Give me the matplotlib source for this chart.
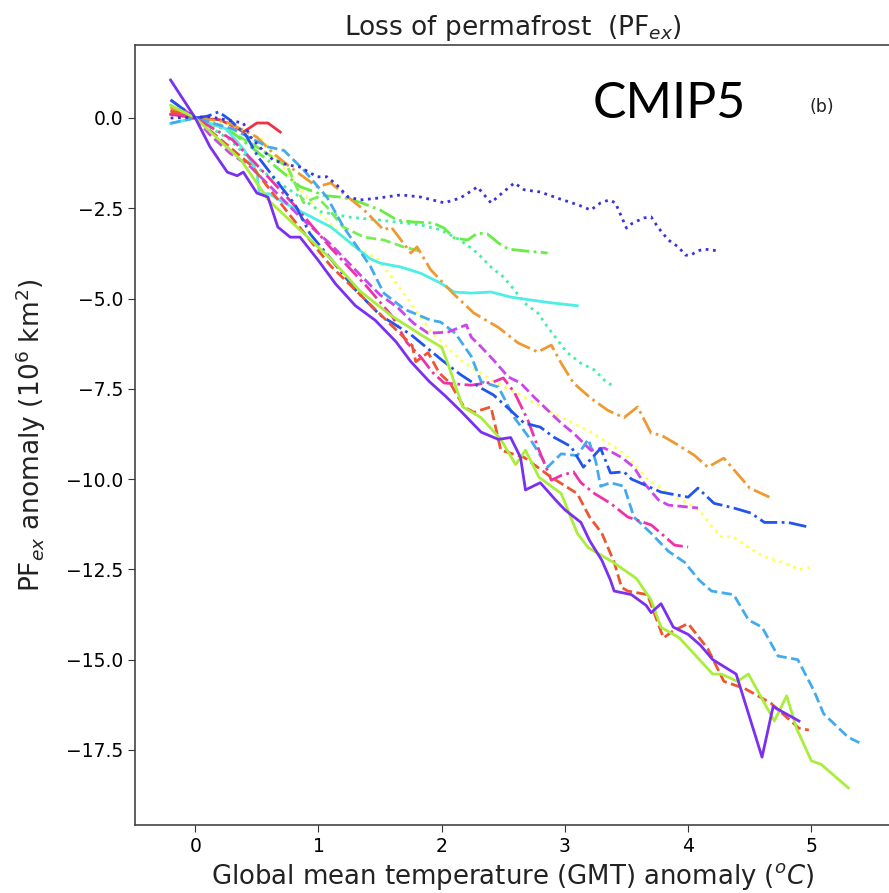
import matplotlib
matplotlib.use('Agg')
import matplotlib.pyplot as plt

# GMT anomaly (x) vs permafrost extent anomaly (y), one run per model
purple_x = [-0.2, 0, 0.12, 0.26, 0.34, 0.39, 0.5, 0.59, 0.67, 0.77, 0.85, 1.0, 1.14, 1.3, 1.46, 1.63, 1.75, 1.9, 2.03, 2.15, 2.32, 2.46, 2.56, 2.64, 2.68, 2.8, 2.93, 3.0, 3.13, 3.2, 3.3, 3.37, 3.4, 3.54, 3.66, 3.7, 3.78, 3.88, 4.0, 4.1, 4.2, 4.39, 4.6, 4.69, 4.9]
purple_y = [1.05, 0, -0.8, -1.5, -1.6, -1.5, -2.08, -2.19, -3.02, -3.3, -3.3, -3.95, -4.6, -5.2, -5.6, -6.2, -6.75, -7.3, -7.7, -8.1, -8.7, -8.9, -8.85, -9.4, -10.3, -10.1, -10.6, -10.85, -11.2, -11.7, -12.25, -12.8, -13.1, -13.2, -13.5, -13.7, -13.45, -14.1, -14.3, -14.6, -15.0, -15.4, -17.7, -16.3, -16.7]

lime_x = [-0.2, 0, 0.37, 0.6, 0.85, 1.1, 1.34, 1.58, 1.83, 2.0, 2.05, 2.17, 2.32, 2.48, 2.6, 2.68, 2.79, 2.97, 3.1, 3.19, 3.39, 3.58, 3.7, 3.78, 3.93, 4.2, 4.27, 4.4, 4.49, 4.7, 4.8, 4.88, 5.0, 5.08, 5.3]
lime_y = [0.35, 0, -1.16, -2.3, -3.1, -3.9, -4.8, -5.45, -6.0, -6.35, -6.8, -8.0, -8.3, -8.9, -9.6, -9.2, -9.95, -10.4, -11.5, -11.9, -12.3, -12.75, -13.35, -14.1, -14.4, -15.4, -15.4, -15.6, -15.4, -16.7, -16.0, -16.9, -17.8, -17.9, -18.55]

red_x = [-0.2, 0, 0.45, 0.77, 1.1, 1.34, 1.55, 1.76, 1.79, 1.89, 1.98, 2.07, 2.18, 2.26, 2.4, 2.48, 2.67, 2.89, 3.1, 3.2, 3.3, 3.4, 3.46, 3.51, 3.67, 3.8, 3.88, 4.0, 4.16, 4.29, 4.46, 4.67, 4.9, 4.98]
red_y = [0.2, 0, -1.3, -2.7, -4.1, -4.9, -5.6, -6.3, -6.75, -6.5, -7.06, -7.35, -8.0, -8.15, -8.0, -9.2, -9.4, -9.95, -10.4, -11.05, -11.5, -12.3, -13.0, -13.1, -13.2, -14.4, -14.2, -14.0, -14.7, -15.6, -15.8, -16.2, -16.9, -16.95]

ltblue_x = [-0.2, 0, 0.3, 0.59, 0.72, 0.88, 1.07, 1.2, 1.42, 1.53, 1.7, 1.91, 1.99, 2.11, 2.24, 2.32, 2.46, 2.59, 2.72, 2.86, 2.97, 3.1, 3.19, 3.25, 3.29, 3.37, 3.48, 3.56, 3.7, 3.84, 3.97, 4.09, 4.19, 4.37, 4.49, 4.6, 4.73, 4.89, 5.02, 5.1, 5.3, 5.39]
ltblue_y = [-0.15, 0, -0.3, -0.8, -0.9, -1.44, -2.2, -3.0, -4.1, -4.85, -5.3, -5.6, -5.65, -5.96, -6.6, -7.3, -7.45, -8.3, -8.9, -9.67, -9.3, -9.35, -8.9, -9.5, -10.2, -10.1, -10.2, -11.05, -11.5, -12.0, -12.3, -12.8, -13.1, -13.2, -13.9, -14.1, -14.9, -15.0, -15.85, -16.5, -17.15, -17.3]

yellow_x = [-0.2, 0, 0.3, 0.55, 0.77, 1.0, 1.26, 1.48, 1.67, 1.91, 2.15, 2.4, 2.64, 2.86, 3.02, 3.21, 3.4, 3.51, 3.67, 3.84, 4.0, 4.1, 4.19, 4.27, 4.37, 4.49, 4.62, 4.76, 4.9, 5.0]
yellow_y = [0.3, 0, -0.2, -0.6, -1.6, -2.6, -3.5, -3.9, -4.75, -5.9, -6.7, -7.25, -7.67, -8.1, -8.37, -8.7, -9.1, -9.4, -10.0, -10.4, -10.67, -10.9, -11.3, -11.6, -11.6, -11.9, -12.15, -12.3, -12.5, -12.45]

blue_x = [-0.2, 0, 0.1, 0.19, 0.28, 0.41, 0.51, 0.65, 0.81, 0.93, 1.1, 1.3, 1.5, 1.75, 2.0, 2.15, 2.32, 2.42, 2.56, 2.67, 2.8, 2.91, 3.05, 3.15, 3.29, 3.37, 3.48, 3.54, 3.78, 4.0, 4.08, 4.21, 4.37, 4.51, 4.62, 4.81, 4.98]
blue_y = [0.5, 0, 0.05, 0.17, -0.05, -0.47, -1.08, -1.7, -2.4, -3.2, -3.9, -4.76, -5.46, -6.0, -6.7, -7.1, -7.48, -7.67, -8.1, -8.45, -8.56, -8.84, -9.1, -9.67, -9.15, -9.83, -9.8, -10.0, -10.36, -10.5, -10.25, -10.67, -10.8, -10.94, -11.2, -11.2, -11.33]

orange_x = [-0.2, 0, 0.25, 0.5, 0.63, 0.77, 0.99, 1.1, 1.2, 1.37, 1.53, 1.59, 1.67, 1.75, 1.8, 1.91, 2.09, 2.26, 2.46, 2.62, 2.78, 2.89, 2.97, 3.07, 3.21, 3.35, 3.48, 3.59, 3.7, 3.78, 3.92, 4.05, 4.16, 4.29, 4.43, 4.5, 4.66]
orange_y = [0.3, 0, -0.1, -0.53, -0.97, -1.36, -1.91, -1.8, -2.08, -2.55, -3.1, -3.02, -3.38, -3.74, -3.57, -4.2, -4.85, -5.4, -5.8, -6.23, -6.48, -6.29, -6.79, -7.34, -7.76, -8.1, -8.3, -8.0, -8.73, -8.78, -9.06, -9.34, -9.67, -9.42, -9.97, -10.25, -10.5]

magenta_x = [-0.2, 0, 0.12, 0.28, 0.45, 0.61, 0.85, 1.1, 1.34, 1.5, 1.64, 1.77, 1.89, 2.05, 2.2, 2.24, 2.32, 2.42, 2.54, 2.64, 2.75, 2.86, 2.97, 3.07, 3.21, 3.32, 3.46, 3.56, 3.64, 3.76, 3.84, 4.08]
magenta_y = [0.5, 0, -0.47, -0.97, -1.36, -1.9, -2.74, -3.5, -4.35, -4.9, -5.24, -5.68, -5.96, -5.93, -5.73, -6.07, -6.34, -6.7, -7.17, -7.34, -7.73, -8.09, -8.45, -8.73, -9.2, -9.14, -9.4, -9.67, -10.1, -10.58, -10.72, -10.8]

pink_x = [-0.2, 0, 0.3, 0.5, 0.8, 1.1, 1.4, 1.6, 1.72, 1.83, 1.93, 2.02, 2.24, 2.42, 2.5, 2.59, 2.7, 2.79, 2.89, 2.97, 3.07, 3.13, 3.24, 3.37, 3.51, 3.7, 3.78, 3.89, 4.0]
pink_y = [0.15, 0, -0.6, -1.3, -2.4, -3.6, -4.7, -5.5, -6.23, -6.62, -7.06, -7.34, -7.4, -7.31, -7.2, -7.6, -8.37, -9.2, -10.03, -9.9, -9.8, -10.1, -10.4, -10.67, -11.05, -11.27, -11.5, -11.83, -11.88]

aqua_x = [-0.2, 0, 0.28, 0.53, 0.77, 1.02, 1.26, 1.5, 1.83, 1.99, 2.15, 2.29, 2.4, 2.5, 2.59, 2.67, 2.78, 2.86, 2.94, 3.02, 3.13, 3.24, 3.32, 3.4]
aqua_y = [0.35, 0, -0.6, -1.44, -2.0, -2.6, -2.75, -2.83, -2.96, -3.1, -3.38, -3.74, -4.13, -4.4, -4.76, -5.12, -5.4, -5.79, -6.15, -6.5, -6.79, -6.98, -7.26, -7.45]

cyan_x = [-0.2, 0, 0.25, 0.4, 0.5, 0.52, 0.6, 0.75, 0.88, 1.1, 1.26, 1.42, 1.5, 1.67, 1.83, 1.99, 2.1, 2.24, 2.4, 2.56, 2.72, 2.89, 3.1]
cyan_y = [-0.15, 0, -0.3, -0.9, -1.5, -2.1, -2.1, -2.4, -2.63, -3.02, -3.46, -3.9, -4.02, -4.13, -4.3, -4.57, -4.82, -4.85, -4.82, -4.96, -5.04, -5.12, -5.2]

green_x = [-0.2, 0, 0.3, 0.6, 0.85, 1.05, 1.2, 1.35, 1.5, 1.64, 1.77, 1.93, 2.02, 2.1, 2.21, 2.29, 2.37, 2.46, 2.54, 2.67, 2.86]
green_y = [0.2, 0, -0.4, -1.2, -1.9, -2.15, -2.2, -2.35, -2.55, -2.83, -2.88, -2.91, -3.05, -3.32, -3.38, -3.19, -3.21, -3.46, -3.63, -3.68, -3.74]

indigo_x = [-0.2, 0.12, 0.39, 0.45, 0.53, 0.63, 0.75, 0.85, 0.99, 1.07, 1.15, 1.24, 1.34, 1.48, 1.67, 1.83, 2.02, 2.15, 2.29, 2.4, 2.5, 2.59, 2.67, 2.8, 2.94, 3.11, 3.21, 3.29, 3.36, 3.41, 3.5, 3.55, 3.64, 3.7, 3.76, 3.84, 3.92, 3.98, 4.02, 4.08, 4.13, 4.24]
indigo_y = [0, 0.03, -0.14, -0.53, -0.83, -1.16, -1.3, -1.36, -1.63, -1.63, -1.86, -2.19, -2.27, -2.22, -2.13, -2.19, -2.35, -2.22, -1.91, -2.35, -2.05, -1.8, -1.99, -2.05, -2.22, -2.41, -2.55, -2.35, -2.27, -2.35, -3.05, -2.91, -2.77, -2.74, -3.05, -3.38, -3.57, -3.8, -3.8, -3.68, -3.63, -3.68]

redsolid_x = [-0.2, 0, 0.2, 0.35, 0.39, 0.5, 0.59, 0.69]
redsolid_y = [0.1, 0, -0.05, -0.3, -0.39, -0.14, -0.14, -0.39]

greendash_x = [-0.2, 0, 0.25, 0.5, 0.75, 0.88, 0.99, 1.07, 1.2, 1.37, 1.53, 1.69, 1.85]
greendash_y = [0.25, 0, -0.3, -0.8, -1.36, -2.35, -2.19, -2.47, -3.02, -3.3, -3.38, -3.57, -3.71]

runs = [
    (redsolid_x, redsolid_y, '#ee3344', '-'),
    (yellow_x, yellow_y, '#ffff55', ':'),
    (aqua_x, aqua_y, '#44eeaa', ':'),
    (greendash_x, greendash_y, '#77ee55', '--'),
    (green_x, green_y, '#66ee44', '-.'),
    (cyan_x, cyan_y, '#4ceee6', '-'),
    (orange_x, orange_y, '#ee9a33', '-.'),
    (ltblue_x, ltblue_y, '#44aaee', '--'),
    (magenta_x, magenta_y, '#cc44ee', '--'),
    (pink_x, pink_y, '#ee33aa', '-.'),
    (blue_x, blue_y, '#2255ee', '-.'),
    (red_x, red_y, '#ee5530', '--'),
    (lime_x, lime_y, '#a8ee3a', '-'),
    (purple_x, purple_y, '#7b2ff0', '-'),
    (indigo_x, indigo_y, '#3a33dd', ':'),
]

fig = plt.figure(figsize=(8.89, 8.93), dpi=100)
ax = fig.add_axes([0.152, 0.0761, 0.85, 0.8735])

for xs, ys, col, ls in runs:
    ax.plot(xs, ys, color=col, linestyle=ls, linewidth=2)

ax.set_xlim(-0.488, 5.645)
ax.set_ylim(-19.58, 2.02)
ax.set_xticks([0, 1, 2, 3, 4, 5])
ax.set_yticks([0.0, -2.5, -5.0, -7.5, -10.0, -12.5, -15.0, -17.5])
ax.tick_params(labelsize=13.5, length=5, color='#333333')
for s in ['left', 'bottom', 'top']:
    ax.spines[s].set_color('#444444')
    ax.spines[s].set_linewidth(1.2)
ax.spines['right'].set_visible(False)

ax.set_xlabel('Global mean temperature (GMT) anomaly ($^{o}C$)', fontsize=18.7, color='#222222')
ax.set_ylabel('PF$_{ex}$ anomaly (10$^6$ km$^2$)', fontsize=19, color='#222222', labelpad=13)
ax.set_title('Loss of permafrost  (PF$_{ex}$)', fontsize=19, pad=7, color='#222222')

ax.text(0.605, 0.925, 'CMIP5', transform=ax.transAxes, fontsize=36, family='Lato',
        ha='left', va='center', color='black')
ax.text(0.893, 0.92, '(b)', transform=ax.transAxes, fontsize=12.5, ha='left', va='center',
        color='#222222')

fig.savefig('out.png', dpi=100)
